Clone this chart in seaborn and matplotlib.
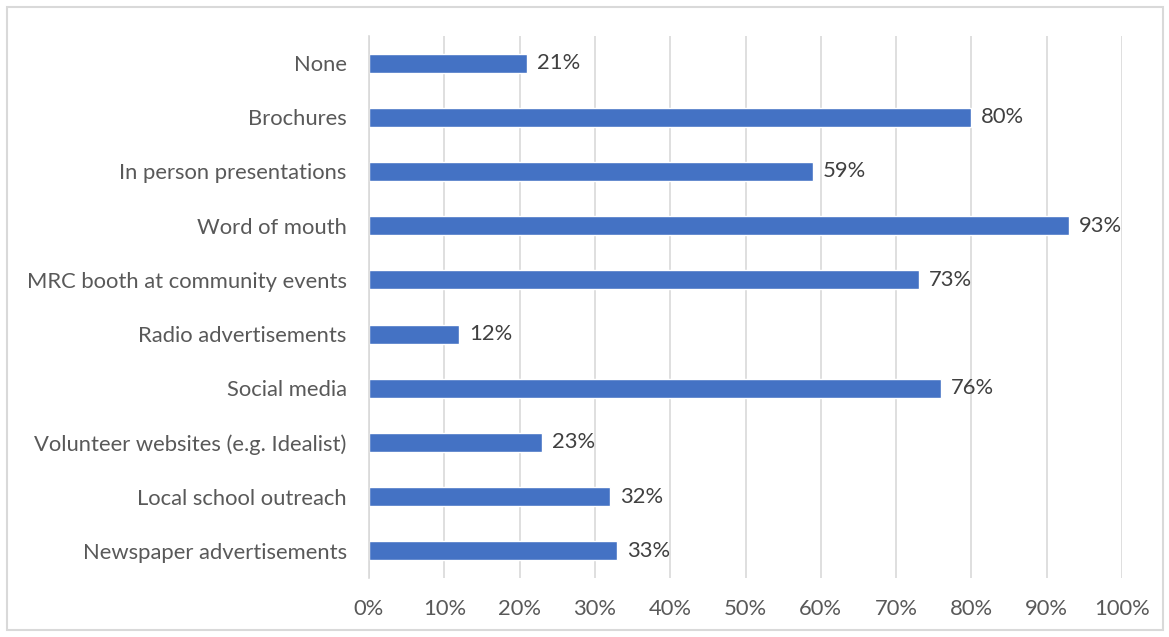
import matplotlib
matplotlib.use("Agg")
import matplotlib.pyplot as plt
import seaborn as sns
import pandas as pd
from matplotlib.patches import Rectangle

categories = ["None", "Brochures", "In person presentations", "Word of mouth",
              "MRC booth at community events", "Radio advertisements", "Social media",
              "Volunteer websites (e.g. Idealist)", "Local school outreach",
              "Newspaper advertisements"]
values = [21, 80, 59, 93, 73, 12, 76, 23, 32, 33]
tick_values = [0, 10, 20, 30, 40, 50, 60, 70, 80, 90, 100]
tick_labels = [f"{v}%" for v in tick_values]

sns.set_theme(style="white")
plt.rcParams['font.family'] = ['Lato', 'DejaVu Sans']

df = pd.DataFrame({"cat": categories, "val": values})

fig = plt.figure(figsize=(11.69, 6.37), dpi=100)
ax = fig.add_axes([369/1169, 59/637, (1122-369)/1169, (578-36)/637])
sns.barplot(data=df, x="val", y="cat", order=categories, color="#4472C4",
            width=0.35, ax=ax, saturation=1)

ax.set_xlim(0, 100)
ax.set_ylim(len(categories) - 0.5, -0.5)
ax.set_xticks(tick_values)
ax.set_xticklabels(tick_labels)
ax.set_xlabel("")
ax.set_ylabel("")
ax.grid(axis="x", color="#D9D9D9", linewidth=1.2)
ax.set_axisbelow(True)
for s in ["top", "right", "bottom"]:
    ax.spines[s].set_visible(False)
ax.spines["left"].set_color("#D9D9D9")
ax.spines["left"].set_linewidth(1.2)
ax.tick_params(axis="both", length=0, labelsize=15.8, labelcolor="#595959")
ax.tick_params(axis="y", pad=16)
ax.tick_params(axis="x", pad=15)

for cont in ax.containers:
    ax.bar_label(cont, labels=[f"{v}%" for v in values], padding=7,
                 fontsize=15.8, color="#404040")

fig.patches.append(Rectangle((7/1169, 7/637), (1163-7)/1169, (630-7)/637,
                             transform=fig.transFigure, fill=False,
                             edgecolor="#D9D9D9", linewidth=1.5))

fig.savefig("out.png", dpi=100)
